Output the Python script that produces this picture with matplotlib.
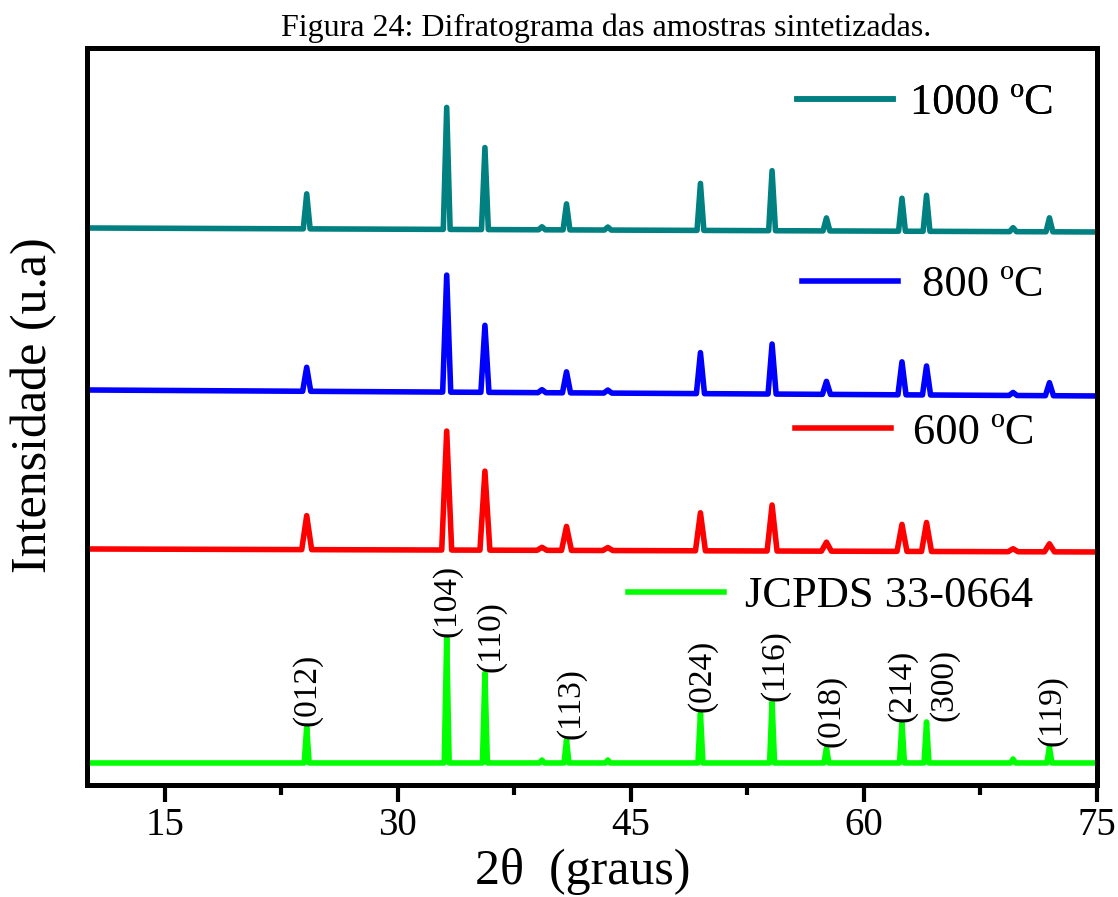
import numpy as np
import matplotlib
matplotlib.use('Agg')
import matplotlib.pyplot as plt
from matplotlib.ticker import MultipleLocator
from matplotlib.lines import Line2D

plt.rcParams['font.family'] = ['Liberation Serif', 'DejaVu Serif']

# peak positions (2theta, degrees) of hematite, JCPDS 33-0664
peak_pos = [24.14, 33.15, 35.61, 39.28, 40.86, 43.52, 49.48, 54.09,
            57.59, 62.45, 64.03, 69.60, 71.94]
hkl = ['(012)', '(104)', '(110)', None, '(113)', None, '(024)', '(116)',
       '(018)', '(214)', '(300)', None, '(119)']

# peak heights (arbitrary units)
h_jcpds = [36, 125, 90, 3, 23, 3, 50, 61, 15, 40, 41, 4, 16]
h_600 = [34, 119, 79, 3, 24, 3, 38, 46, 9, 27, 29, 3, 8]
h_800 = [24, 117, 67, 3, 21, 3, 41, 50, 13, 33, 29, 3, 13]
h_1000 = [35, 122, 82, 3, 26, 3, 47, 60, 13, 33, 36, 4, 14]

# baseline level at 2theta = 10 and 75 (after vertical stacking)
base_jcpds = [22, 22]
base_600 = [236, 233]
base_800 = [395, 389]
base_1000 = [557, 553]

labels = ['JCPDS 33-0664', '600 ºC', '800 ºC', '1000 ºC']
colors = ['#00ff00', '#ff0000', '#0000ff', '#008080']
half_w = [0.16, 0.32, 0.26, 0.22]

x_range = [10, 75]


def trace(heights, base, w):
    xs, ys = [x_range[0]], [0.0]
    for c, h in zip(peak_pos, heights):
        xs += [c - w, c, c + w]
        ys += [0.0, h, 0.0]
    xs.append(x_range[1])
    ys.append(0.0)
    xs = np.array(xs)
    return xs, np.array(ys) + np.interp(xs, x_range, base)


fig = plt.figure(figsize=(11.18, 8.97), dpi=100)
ax = fig.add_axes([0.0778, 0.1249, 0.9034, 0.8216])

series = [(h_jcpds, base_jcpds), (h_600, base_600),
          (h_800, base_800), (h_1000, base_1000)]
for (hs, base), col, w in zip(series, colors, half_w):
    x, y = trace(hs, base, w)
    ax.plot(x, y, color=col, lw=4, solid_joinstyle='round',
            solid_capstyle='butt')

# hkl labels over the reference pattern
label_dx = {'(110)': 0.4, '(113)': 0.3, '(024)': 0.1, '(116)': 0.2,
            '(018)': 0.3, '(300)': 1.1, '(119)': 0.2}
for c, h, lab in zip(peak_pos, h_jcpds, hkl):
    if lab is None:
        continue
    ax.text(c + label_dx.get(lab, 0), base_jcpds[0] + h + 1, lab,
            rotation=90, ha='center', va='bottom', fontsize=24)

# one legend per curve, placed next to each curve
leg_pos = [(0.536, 0.256), (0.701, 0.478), (0.708, 0.678), (0.703, 0.925)]
leg_pad = [0.47, 0.5, 0.54, 0.38]
for lab, col, pos, pad in zip(labels, colors, leg_pos, leg_pad):
    h = Line2D([], [], color=col, lw=4)
    leg = ax.legend([h], [lab], loc='center left', bbox_to_anchor=pos,
                    frameon=False, fontsize=32, handlelength=2.16,
                    handletextpad=pad, borderpad=0, borderaxespad=0)
    ax.add_artist(leg)

ax.set_xlim(10, 75)
ax.set_ylim(0, 737)
ax.set_yticks([])
ax.xaxis.set_major_locator(MultipleLocator(15))
ax.xaxis.set_minor_locator(MultipleLocator(7.5))
ax.tick_params(axis='x', which='major', direction='out', length=12,
               width=3, labelsize=28, pad=4)
ax.tick_params(axis='x', which='minor', direction='out', length=7, width=3)
for sp in ax.spines.values():
    sp.set_linewidth(3.6)

ax.set_xlabel('2θ  (graus)', fontsize=36)
ax.set_ylabel('Intensidade (u.a)', fontsize=36)
ax.xaxis.set_label_coords(0.491, -0.086)
ax.yaxis.set_label_coords(-0.03, 0.516)

fig.text(0.542, 0.968, 'Figura 24: Difratograma das amostras sintetizadas.',
         ha='center', va='center', fontsize=23)

fig.savefig('out.png', dpi=100)
